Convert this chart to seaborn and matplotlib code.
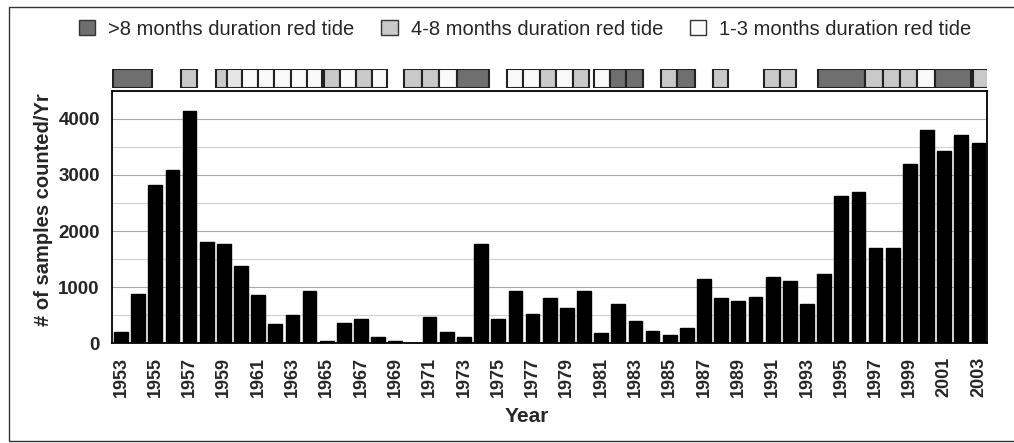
import numpy as np
import pandas as pd
import seaborn as sns
import matplotlib
matplotlib.use("Agg")
import matplotlib.pyplot as plt
from matplotlib.patches import Patch, Rectangle
from matplotlib.ticker import MultipleLocator

sns.set_theme(style="white")
plt.rcParams['font.family'] = ['Liberation Sans', 'DejaVu Sans']

# samples counted per year
years = list(range(1953, 2004))
samples = [200, 870, 2820, 3090, 4150, 1810, 1760, 1370, 855, 335,
           500, 935, 30, 365, 425, 115, 30, 5, 470, 200,
           115, 1760, 430, 937, 525, 800, 630, 937, 170, 690,
           390, 220, 150, 275, 1135, 800, 750, 830, 1180, 1100,
           690, 1235, 2630, 2690, 1690, 1690, 3200, 3800, 3420, 3720,
           3580]

# red tide episodes shown as boxes above the bars (start, end in years)
tide_start = [1952.55, 1956.50, 1958.53, 1959.17, 1960.08, 1961.01, 1961.94, 1962.90,
              1963.83, 1964.84, 1965.78, 1966.69, 1967.63, 1969.51, 1970.54, 1971.55,
              1972.59, 1975.54, 1976.47, 1977.45, 1978.36, 1979.35, 1980.56, 1981.53,
              1982.46, 1984.49, 1985.42, 1987.52, 1990.51, 1991.45, 1993.62, 1996.41,
              1997.44, 1998.45, 1999.42, 2000.45, 2002.69]
tide_end = [1954.83, 1957.42, 1959.17, 1960.08, 1961.01, 1961.94, 1962.90, 1963.83,
            1964.74, 1965.78, 1966.69, 1967.63, 1968.50, 1970.54, 1971.55, 1972.59,
            1974.47, 1976.47, 1977.45, 1978.36, 1979.35, 1980.30, 1981.53, 1982.46,
            1983.44, 1985.42, 1986.49, 1988.40, 1991.45, 1992.36, 1996.41, 1997.44,
            1998.45, 1999.42, 2000.45, 2002.59, 2003.56]
tide_class = ["long", "mid", "mid", "pale", "short", "short", "short", "short",
              "short", "mid", "short", "mid", "short", "mid", "mid", "short",
              "long", "short", "short", "mid", "short", "mid", "short", "long",
              "long", "mid", "long", "mid", "mid", "mid", "long", "mid",
              "mid", "mid", "short", "long", "mid"]

legend_labels = [">8 months duration red tide",
                 "4-8 months duration red tide",
                 "1-3 months duration red tide"]
shade = {"long": "#6f6f6f", "mid": "#c9c9c9", "short": "#fafafa", "pale": "#e6e6e6"}

df = pd.DataFrame({"Year": years, "Samples": samples})

fig = plt.figure(figsize=(10.14, 4.43), dpi=100)
ax = fig.add_axes([0.1108, 0.2257, 0.8626, 0.5689])

sns.barplot(data=df, x="Year", y="Samples", native_scale=True,
            color="black", edgecolor="black", saturation=1, width=0.8, ax=ax)

ax.set_xlim(1952.5, 2003.5)
ax.set_ylim(0, 4500)
ax.yaxis.set_major_locator(MultipleLocator(1000))
ax.yaxis.set_minor_locator(MultipleLocator(500))
ax.grid(axis="y", which="major", color="#a8a8a8", lw=0.8)
ax.grid(axis="y", which="minor", color="#d0d0d0", lw=0.8)
ax.set_axisbelow(True)

ax.set_xticks(years[::2])
ax.set_xticklabels([str(y) for y in years[::2]], rotation=90,
                   fontsize=13, fontweight="bold")
ax.set_xticks(np.arange(1952.5, 2004, 1.0), minor=True)
ax.tick_params(axis="x", which="major", length=0, pad=10)
ax.tick_params(axis="x", which="minor", length=5, color="#aaaaaa", width=0.8)
ax.tick_params(axis="y", which="both", length=5, color="#aaaaaa", width=0.8, pad=4)
for lab in ax.get_yticklabels():
    lab.set_fontsize(13.5)
    lab.set_fontweight("bold")

for sp in ax.spines.values():
    sp.set_visible(True)
    sp.set_color("black")
    sp.set_linewidth(1.3)

ax.set_xlabel("Year", fontsize=15, fontweight="bold", va="top")
ax.xaxis.set_label_coords(0.474, -0.255)
ax.set_ylabel("# of samples counted/Yr", fontsize=14.5, fontweight="bold")
ax.yaxis.set_label_coords(-0.068, 0.53)

# strip of red tide boxes
strip = fig.add_axes([0.1108, 0.8007, 0.8626, 0.0435], sharex=ax)
strip.set_ylim(0, 1)
strip.axis("off")
for s, e, c in zip(tide_start, tide_end, tide_class):
    strip.add_patch(Rectangle((s, 0), e - s, 1, facecolor=shade[c],
                              edgecolor="#222222", lw=1.5))

handles = [Patch(facecolor=shade[k], edgecolor="#333333", lw=1.0)
           for k in ["long", "mid", "short"]]
fig.legend(handles, legend_labels, loc="center", bbox_to_anchor=(0.518, 0.934),
           ncol=3, frameon=False, fontsize=14.5, handlelength=0.8, handleheight=0.8,
           handletextpad=0.65, columnspacing=1.35)

# outer frame round the whole figure
fig.patches.append(Rectangle((0.0089, 0.0045), 1.0, 0.9797, transform=fig.transFigure,
                             fill=False, edgecolor="#333333", lw=1.0))

fig.savefig("out.png", dpi=100)
